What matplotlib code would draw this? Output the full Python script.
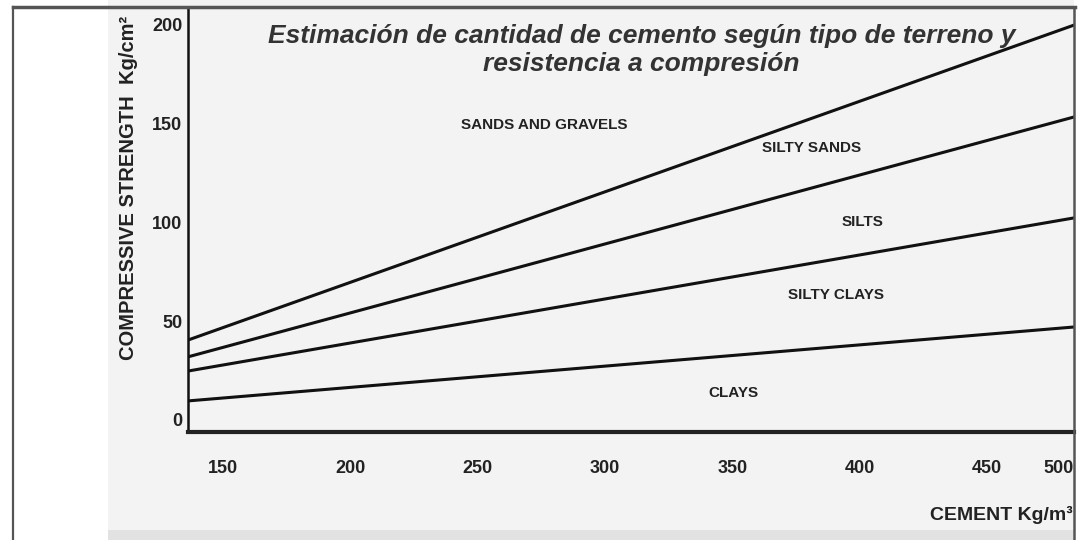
import matplotlib.pyplot as plt
from matplotlib.lines import Line2D
from matplotlib.patches import Rectangle

# datos (dos puntos por recta)
cement = [150, 450]
sands_gravels = [46.7, 184.3]
silty_sands = [36.7, 141.5]
silts = [27.8, 94.7]
clays = [11.1, 43.4]
soil_labels = ['SANDS AND GRAVELS', 'SILTY SANDS', 'SILTS', 'SILTY CLAYS', 'CLAYS']
x_ticks = [150, 200, 250, 300, 350, 400, 450]
y_ticks = [0, 50, 100, 150, 200]

narrow = ['Liberation Sans Narrow', 'Liberation Sans', 'DejaVu Sans']
plt.rcParams['font.family'] = narrow

fig = plt.figure(figsize=(10.81, 5.40), dpi=100)
fig.patch.set_facecolor('white')

# fondo del escaneo
fig.patches.append(Rectangle((108 / 1081, 0), (1074 - 108) / 1081, 1,
                             transform=fig.transFigure, facecolor='#f3f3f3',
                             edgecolor='none', zorder=-2))
fig.patches.append(Rectangle((108 / 1081, 0), (1074 - 108) / 1081, 10 / 540,
                             transform=fig.transFigure, facecolor='#e2e2e2',
                             edgecolor='none', zorder=-2))

ax = fig.add_axes([188 / 1081, 108 / 540, (1074 - 188) / 1081, (532 - 108) / 540])
ax.set_facecolor('#f3f3f3')

for ys in [sands_gravels, silty_sands, silts, clays]:
    ax.axline((cement[0], ys[0]), (cement[1], ys[1]), color='#111111', lw=2.2)

ax.set_xlim(136.4, 484.1)
ax.set_ylim(-6.1, 208.6)

ax.set_xticks(x_ticks)
ax.set_xticklabels([str(v) for v in x_ticks], fontsize=13, fontweight='bold', color='#222222')
ax.set_yticks(y_ticks)
ax.set_yticklabels([str(v) for v in y_ticks], fontsize=13, fontweight='bold', color='#222222')
ax.tick_params(axis='x', length=0, pad=20)
ax.tick_params(axis='y', length=0, pad=4)
ax.text(1.0, -0.085, '500', transform=ax.transAxes, ha='right', va='center',
        fontsize=13, fontweight='bold', color='#222222')

for s in ['top', 'right']:
    ax.spines[s].set_visible(False)
ax.spines['left'].set_linewidth(1.8)
ax.spines['left'].set_color('#111111')
ax.spines['bottom'].set_linewidth(3)
ax.spines['bottom'].set_color('#222222')

# etiquetas de los terrenos
label_pos = [(276.1, 149.4), (381.3, 137.7), (401.3, 100.3), (390.7, 63.3), (350.3, 13.7)]
for txt, (lx, ly) in zip(soil_labels, label_pos):
    ax.text(lx, ly, txt, ha='center', va='center', fontsize=11,
            fontweight='bold', color='#222222')

ax.text(0.512, 0.962, 'Estimación de cantidad de cemento según tipo de terreno y\nresistencia a compresión',
        transform=ax.transAxes, ha='center', va='top', fontsize=19,
        fontweight='bold', style='italic', color='#333333',
        family=['Liberation Sans', 'DejaVu Sans'], linespacing=1.2)

fig.text(128 / 1081, (540 - 188) / 540, 'COMPRESSIVE STRENGTH  Kg/cm²', rotation=90,
         ha='center', va='center', fontsize=14.5, fontweight='bold', color='#222222')
fig.text(1073 / 1081, (540 - 515) / 540, 'CEMENT Kg/m³', ha='right', va='center',
         fontsize=14, fontweight='bold', color='#222222')

# marco del documento
fig.add_artist(Line2D([13 / 1081, 1075 / 1081], [533 / 540, 533 / 540],
                      color='#555555', lw=2.5, transform=fig.transFigure))
fig.add_artist(Line2D([13 / 1081, 13 / 1081], [0, 533 / 540],
                      color='#555555', lw=1.6, transform=fig.transFigure))
fig.add_artist(Line2D([1074 / 1081, 1074 / 1081], [0, 533 / 540],
                      color='#555555', lw=1.8, transform=fig.transFigure))

fig.savefig('out.png', dpi=100)
